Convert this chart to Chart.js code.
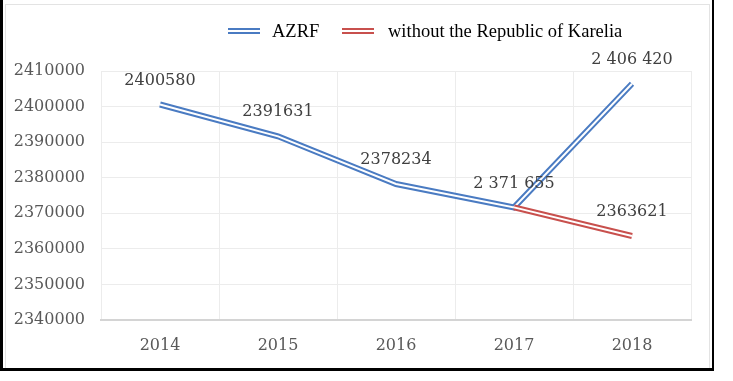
<!DOCTYPE html>
<html>
<head>
<meta charset="utf-8">
<script src="https://cdn.jsdelivr.net/npm/chart.js@4.4.1/dist/chart.umd.min.js"></script>
<style>
  html, body { margin: 0; padding: 0; background: #ffffff; }
  #wrap { position: relative; width: 733px; height: 381px; }
  #frame { position: absolute; left: 0; top: -3px; width: 709px; height: 371px;
           border-left: 3px solid #000; border-right: 2px solid #000; border-bottom: 3px solid #000; box-sizing: content-box; pointer-events: none; }
  #inner { position: absolute; left: 5px; top: 4px; width: 703px; height: 363px; border: 1px solid #e3e3e3; pointer-events: none; }
  canvas { position: absolute; left: 0; top: 0; }
</style>
</head>
<body>
<div id="wrap">
  <canvas id="c" width="733" height="381"></canvas>
  <div id="inner"></div>
  <div id="frame"></div>
</div>
<script>
const categories = ['2014', '2015', '2016', '2017', '2018'];
const azrfValues = [2400580, 2391631, 2378234, 2371655, 2406420];
const kareliaValues = [null, null, null, 2371655, 2363621];
const azrfLabels = ['2400580', '2391631', '2378234', '2 371 655', '2 406 420'];
const kareliaLabels = [null, null, null, null, '2363621'];
const seriesNames = ['AZRF', 'without the Republic of Karelia'];
const yTicks = [2340000, 2350000, 2360000, 2370000, 2380000, 2390000, 2400000, 2410000];

const BLUE = '#4a7bc2';
const RED = '#c8504d';

const dataLabelPlugin = {
  id: 'dataLabels',
  afterDatasetsDraw(chart) {
    const ctx = chart.ctx;
    ctx.save();
    ctx.font = '16px "DejaVu Serif"';
    ctx.fillStyle = '#404040';
    ctx.textAlign = 'center';
    ctx.textBaseline = 'middle';
    const sets = [[0, azrfLabels], [2, kareliaLabels]];
    sets.forEach(([dsIndex, labels]) => {
      const meta = chart.getDatasetMeta(dsIndex);
      meta.data.forEach((pt, i) => {
        if (labels[i] == null) return;
        ctx.fillText(labels[i], pt.x, pt.y - 24);
      });
    });
    ctx.restore();
  }
};

const legendPlugin = {
  id: 'customLegend',
  afterDraw(chart) {
    const ctx = chart.ctx;
    ctx.save();
    const y = 31;
    const items = [
      { color: BLUE, x: 228, text: seriesNames[0], tx: 272 },
      { color: RED, x: 342, text: seriesNames[1], tx: 388 }
    ];
    items.forEach(it => {
      ctx.strokeStyle = it.color;
      ctx.lineWidth = 6;
      ctx.beginPath(); ctx.moveTo(it.x, y); ctx.lineTo(it.x + 32, y); ctx.stroke();
      ctx.strokeStyle = '#ffffff';
      ctx.lineWidth = 2;
      ctx.beginPath(); ctx.moveTo(it.x, y); ctx.lineTo(it.x + 32, y); ctx.stroke();
      ctx.fillStyle = '#000000';
      ctx.font = '18.5px "Liberation Serif"';
      ctx.textAlign = 'left';
      ctx.textBaseline = 'middle';
      ctx.fillText(it.text, it.tx, y + 1);
    });
    ctx.restore();
  }
};

new Chart(document.getElementById('c'), {
  type: 'line',
  data: {
    labels: categories,
    datasets: [
      { label: seriesNames[0], data: azrfValues, borderColor: BLUE, borderWidth: 6, pointRadius: 0, tension: 0, order: 3 },
      { label: seriesNames[0] + ' inner', data: azrfValues, borderColor: '#ffffff', borderWidth: 2, pointRadius: 0, tension: 0, order: 2 },
      { label: seriesNames[1], data: kareliaValues, borderColor: RED, borderWidth: 6, pointRadius: 0, tension: 0, order: 1 },
      { label: seriesNames[1] + ' inner', data: kareliaValues, borderColor: '#ffffff', borderWidth: 2, pointRadius: 0, tension: 0, order: 0 }
    ]
  },
  options: {
    responsive: false,
    animation: false,
    layout: { padding: { left: 0, right: 42, top: 71, bottom: 21 } },
    plugins: { legend: { display: false }, tooltip: { enabled: false } },
    scales: {
      x: {
        offset: true,
        grid: { color: '#ececec', drawTicks: false, offset: true },
        border: { color: '#d4d4d4', width: 2 },
        ticks: { color: '#595959', font: { family: 'DejaVu Serif', size: 16 }, padding: 16 },
        afterFit(scale) { scale.height = 40; }
      },
      y: {
        min: 2340000, max: 2410000,
        afterBuildTicks(scale) { scale.ticks = yTicks.map(v => ({ value: v })); },
        grid: { color: '#ececec', drawTicks: false },
        border: { display: false },
        ticks: { color: '#595959', font: { family: 'DejaVu Serif', size: 16 }, padding: 16, callback: v => String(v) },
        afterFit(scale) { scale.width = 101; }
      }
    }
  },
  plugins: [dataLabelPlugin, legendPlugin]
});
</script>
</body>
</html>
